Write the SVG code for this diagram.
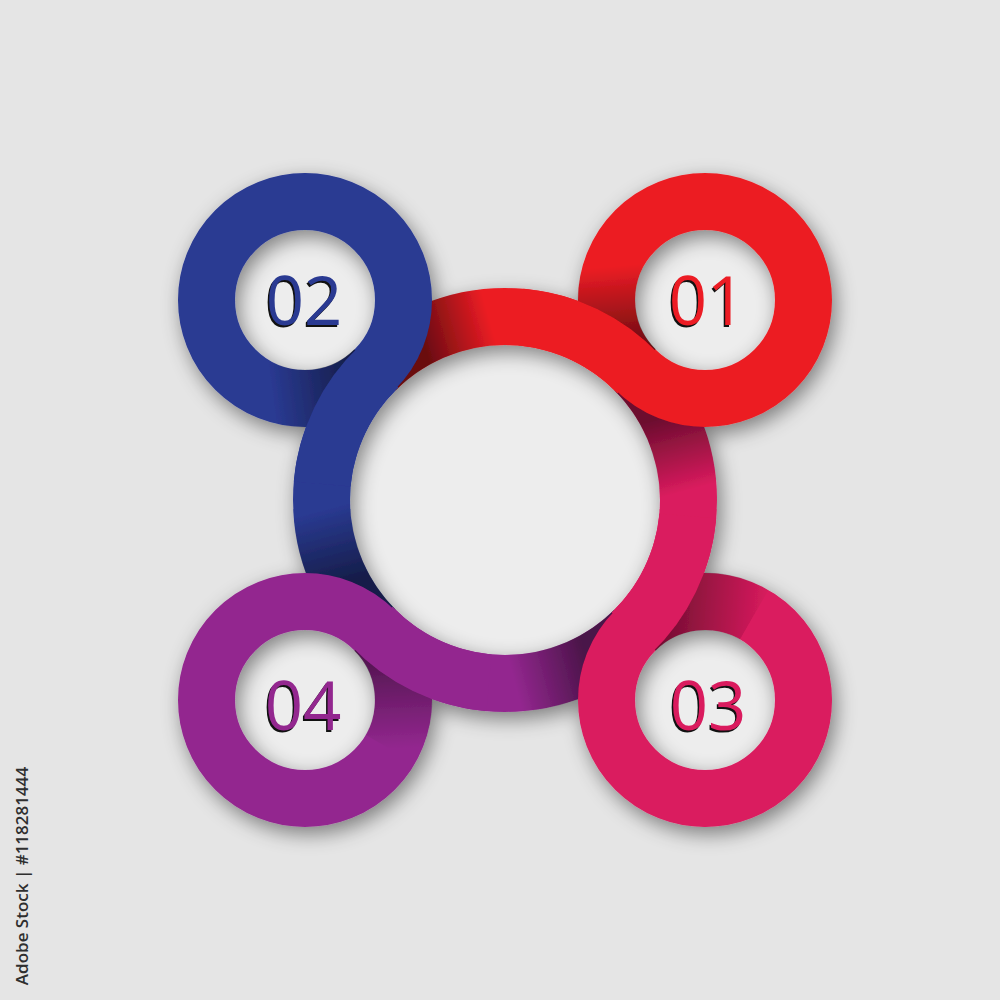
<svg xmlns="http://www.w3.org/2000/svg" width="1000" height="1000" viewBox="0 0 1000 1000">
<defs>
<style>
.band{fill:none;stroke-width:57;stroke-linecap:butt}
.shade{fill:none;stroke-width:57.5;stroke-linecap:butt}
.red{stroke:#ec1c24}.blue{stroke:#2a3a92}.pink{stroke:#da1b5e}.purple{stroke:#93278f}
.num{font-family:"Open Sans","Noto Sans","DejaVu Sans",sans-serif;font-size:67px;text-anchor:middle}
.numsh{fill:#111}
.hole{fill:#ededed}
</style>
<filter id="drop" x="-30%" y="-30%" width="160%" height="160%">
<feDropShadow dx="4" dy="7" stdDeviation="10" flood-color="#000" flood-opacity="0.45"/>
</filter>
<linearGradient id="gRedS" gradientUnits="userSpaceOnUse" x1="421.7" y1="336.5" x2="489" y2="317.2"><stop offset="0" stop-color="#000" stop-opacity="0.55"/><stop offset="1" stop-color="#000" stop-opacity="0"/></linearGradient>
<linearGradient id="gPinkS" gradientUnits="userSpaceOnUse" x1="668.5" y1="416.7" x2="688.25" y2="490.4"><stop offset="0" stop-color="#000" stop-opacity="0.5"/><stop offset="1" stop-color="#000" stop-opacity="0"/></linearGradient>
<linearGradient id="gPurpleS" gradientUnits="userSpaceOnUse" x1="588.3" y1="663.5" x2="514.6" y2="683.25"><stop offset="0" stop-color="#000" stop-opacity="0.5"/><stop offset="1" stop-color="#000" stop-opacity="0"/></linearGradient>
<linearGradient id="gBlueS" gradientUnits="userSpaceOnUse" x1="341.5" y1="583.3" x2="321.75" y2="509.6"><stop offset="0" stop-color="#000" stop-opacity="0.5"/><stop offset="1" stop-color="#000" stop-opacity="0"/></linearGradient>
<linearGradient id="gT01" gradientUnits="userSpaceOnUse" x1="612.4" y1="266.3" x2="619.7" y2="349.25"><stop offset="0" stop-color="#000" stop-opacity="0"/><stop offset="1" stop-color="#000" stop-opacity="0.55"/></linearGradient>
<linearGradient id="gT02" gradientUnits="userSpaceOnUse" x1="271.3" y1="392.6" x2="361.5" y2="380.7"><stop offset="0" stop-color="#000" stop-opacity="0"/><stop offset="1" stop-color="#000" stop-opacity="0.55"/></linearGradient>
<linearGradient id="gT03" gradientUnits="userSpaceOnUse" x1="768.3" y1="624.5" x2="655.75" y2="614.7"><stop offset="0" stop-color="#000" stop-opacity="0"/><stop offset="1" stop-color="#000" stop-opacity="0.5"/></linearGradient>
<linearGradient id="gT04" gradientUnits="userSpaceOnUse" x1="390.3" y1="749.25" x2="385.7" y2="643.5"><stop offset="0" stop-color="#000" stop-opacity="0"/><stop offset="1" stop-color="#000" stop-opacity="0.5"/></linearGradient>
</defs>
<rect x="0" y="0" width="1000" height="1000" fill="#e5e5e5"/>
<g id="holes">
<circle class="hole" cx="505" cy="500" r="156"/>
<circle class="hole" cx="705" cy="300" r="71"/>
<circle class="hole" cx="305" cy="300" r="71"/>
<circle class="hole" cx="705" cy="700" r="71"/>
<circle class="hole" cx="305" cy="700" r="71"/>
</g>
<g id="art" filter="url(#drop)">
<g id="connectors">
<path class="band red" d="M375.25 370.25A183.5 183.5 0 0 1 634.75 370.25"/>
<path class="band pink" d="M634.75 370.25A183.5 183.5 0 0 1 634.75 629.75"/>
<path class="band purple" d="M634.75 629.75A183.5 183.5 0 0 1 375.25 629.75"/>
<path class="band blue" d="M375.25 629.75A183.5 183.5 0 0 1 375.25 370.25"/>
<path class="shade" stroke="url(#gRedS)" d="M375.25 370.25A183.5 183.5 0 0 1 521 317.2"/>
<path class="shade" stroke="url(#gPinkS)" d="M634.75 370.25A183.5 183.5 0 0 1 687.8 516"/>
<path class="shade" stroke="url(#gPurpleS)" d="M634.75 629.75A183.5 183.5 0 0 1 489 682.8"/>
<path class="shade" stroke="url(#gBlueS)" d="M375.25 629.75A183.5 183.5 0 0 1 322.2 484"/>
</g>
<g id="node-01">
<circle class="band red" cx="705" cy="300" r="98.5"/>
<path class="shade" stroke="url(#gT01)" d="M619.7 250.75A98.5 98.5 0 0 0 635.35 369.65"/>
<path class="band red" d="M521 317.2A183.5 183.5 0 0 1 638.1 373.7"/>
</g>
<g id="node-02">
<circle class="band blue" cx="305" cy="300" r="98.5"/>
<path class="shade" stroke="url(#gT02)" d="M255.75 385.3A98.5 98.5 0 0 0 374.65 369.65"/>
<path class="band blue" d="M322.2 484A183.5 183.5 0 0 1 378.7 366.9"/>
</g>
<g id="node-03">
<circle class="band pink" cx="705" cy="700" r="98.5"/>
<path class="shade" stroke="url(#gT03)" d="M754.25 614.7A98.5 98.5 0 0 0 635.35 630.35"/>
<path class="band pink" d="M687.8 516A183.5 183.5 0 0 1 631.3 633.1"/>
</g>
<g id="node-04">
<circle class="band purple" cx="305" cy="700" r="98.5"/>
<path class="shade" stroke="url(#gT04)" d="M390.3 749.25A98.5 98.5 0 0 0 374.65 630.35"/>
<path class="band purple" d="M489 682.8A183.5 183.5 0 0 1 371.9 626.3"/>
</g>
</g>
<g id="labels">
<g id="label-01"><text class="num numsh" x="705.5" y="327">01</text><text class="num" x="707" y="325" fill="#ec1c24">01</text></g>
<g id="label-02"><text class="num numsh" x="302.5" y="327">02</text><text class="num" x="304" y="325" fill="#2a3a92">02</text></g>
<g id="label-03"><text class="num numsh" x="706.5" y="732">03</text><text class="num" x="708" y="730" fill="#da1b5e">03</text></g>
<g id="label-04"><text class="num numsh" x="301.5" y="732">04</text><text class="num" x="303" y="730" fill="#93278f">04</text></g>
</g>
<text x="0" y="0" transform="translate(28 876) rotate(-90)" font-family="'Open Sans','Noto Sans',sans-serif" font-weight="600" font-size="17" fill="#2f2f2f" text-anchor="middle">Adobe Stock | #118281444</text>
</svg>
